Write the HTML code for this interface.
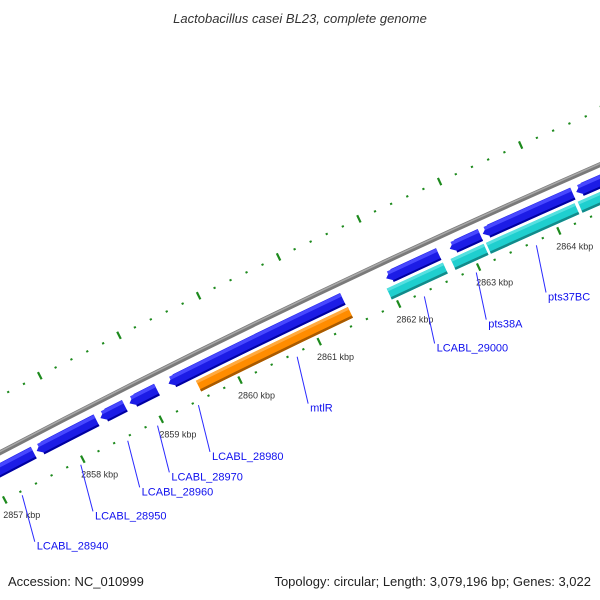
<!DOCTYPE html>
<html><head><meta charset="utf-8"><style>
html,body{margin:0;padding:0;background:#fff;}
svg{display:block;font-family:"Liberation Sans",sans-serif;}
</style></head><body>
<svg id="map" width="600" height="600" viewBox="0 0 600 600" xmlns="http://www.w3.org/2000/svg">
<defs>
<clipPath id="clip"><rect x="0" y="0" width="600" height="600"/></clipPath>
</defs>
<g id="plot" clip-path="url(#clip)"></g>
<text x="300" y="23" text-anchor="middle" font-size="13" font-style="italic" fill="#333">Lactobacillus casei BL23, complete genome</text>
<text x="8" y="586" font-size="13" fill="#222">Accession: NC_010999</text>
<text x="591" y="586" text-anchor="end" font-size="13" fill="#222">Topology: circular; Length: 3,079,196 bp; Genes: 3,022</text>
</svg>
<script>
// data
const fwdStarts = [2856900, 2857578, 2858390, 2858760, 2859255, 2861994, 2862788, 2863199, 2864359];
const fwdEnds   = [2857540, 2858340, 2858700, 2859108, 2861451, 2862650, 2863169, 2864317, 2865800];
const innerStarts = [2859547, 2861950, 2862749, 2863190, 2864330];
const innerEnds   = [2861463, 2862652, 2863160, 2864290, 2865800];
const innerKinds  = ["orange", "cyan", "cyan", "cyan", "cyan"];
const tickKbp = [2857, 2858, 2859, 2860, 2861, 2862, 2863, 2864, 2865];
const geneNames = ["LCABL_28940","LCABL_28950","LCABL_28960","LCABL_28970","LCABL_28980","mtlR","LCABL_29000","pts38A","pts37BC"];
const geneNameBp = [2857200, 2857950, 2858550, 2858930, 2859450, 2860700, 2862300, 2862950, 2863700];

const NS = "http://www.w3.org/2000/svg";
const plot = document.getElementById("plot");
const CX = 4315, CY = 8673, R0 = 9284;
const PHI0 = Math.atan2(380 - CY, 240 - CX);
const K = 88 / 9240 / 1000;
function ang(bp){ return PHI0 + (bp - 2860000) * K; }
function pt(bp, r){ const a = ang(bp); return [CX + r*Math.cos(a), CY + r*Math.sin(a)]; }
function f(v){ return v.toFixed(2); }
function mk(tag, attrs){ const e = document.createElementNS(NS, tag); for (const k in attrs) e.setAttribute(k, attrs[k]); plot.appendChild(e); return e; }
function band(s, e, r1, r2, arrowLeft){
  const head = 90;
  const rm = (r1 + r2) / 2;
  const bs = arrowLeft ? s + head : s;
  const a = pt(bs, r2), b = pt(e, r2), c = pt(e, r1), d = pt(bs, r1);
  let p = `M${f(a[0])},${f(a[1])} A${R0},${R0} 0 0 1 ${f(b[0])},${f(b[1])} L${f(c[0])},${f(c[1])} A${R0},${R0} 0 0 0 ${f(d[0])},${f(d[1])}`;
  if (arrowLeft){ const t = pt(s, rm); p += ` L${f(t[0])},${f(t[1])}`; }
  return p + " Z";
}

// backbone
{
  const a = pt(2855000, R0), b = pt(2867000, R0);
  let el = mk("path", {d:`M${f(a[0])},${f(a[1])} A${R0},${R0} 0 0 1 ${f(b[0])},${f(b[1])}`, fill:"none", stroke:"#7a7a7a", "stroke-width":"5"});
  
  
  const a2 = pt(2855000, R0+1), b2 = pt(2867000, R0+1);
  el = mk("path", {d:`M${f(a2[0])},${f(a2[1])} A${R0},${R0} 0 0 1 ${f(b2[0])},${f(b2[1])}`, fill:"none", stroke:"#a8a8a8", "stroke-width":"1.5"});
  
  
}

// ticks (outer and inner rings)
for (let bp = 2855000; bp <= 2867000; bp += 200){
  const major = bp % 1000 === 0;
  [[R0+50, "outer"], [R0-44, "inner"]].forEach(([r, nm]) => {
    const len = major ? 4 : 1;
    const p1 = pt(bp, r - len), p2 = pt(bp, r + len);
    const el = mk("line", {x1:f(p1[0]), y1:f(p1[1]), x2:f(p2[0]), y2:f(p2[1]), stroke:"#1d8a1d", "stroke-width": major ? 2.2 : 2.2});
    
    
  });
}
tickKbp.forEach(kb => {
  const p = pt(kb*1000, R0 - 61);
  const el = mk("text", {x:f(p[0]+9), y:f(p[1]+3), "text-anchor":"middle", "font-size":"9", fill:"#333"});
  el.textContent = kb + " kbp";
  
  
});

// forward ring genes (blue, arrows pointing left)
fwdStarts.forEach((s, i) => {
  const e = fwdEnds[i];
  let el = mk("path", {d: band(s, e, R0-22, R0-9, true), fill:"#1c1ce6"});
  
  
  el = mk("path", {d: band(s+40, e, R0-13, R0-9.5, false), fill:"#4848ff"});
  
  
  el = mk("path", {d: band(s+60, e, R0-22, R0-20, false), fill:"#0000a0"});
  
  
});

// inner ring genes
innerStarts.forEach((s, i) => {
  const e = innerEnds[i];
  const main = innerKinds[i] === "orange" ? "#ff8c00" : "#1fcfcf";
  const hi = innerKinds[i] === "orange" ? "#ffaa40" : "#55e0e0";
  const lo = innerKinds[i] === "orange" ? "#a85a00" : "#128a8a";
  let el = mk("path", {d: band(s, e, R0-37, R0-25, false), fill: main});
  
  
  el = mk("path", {d: band(s, e, R0-28, R0-25, false), fill: hi});
  
  
  el = mk("path", {d: band(s, e, R0-37, R0-34.5, false), fill: lo});
  
  
});

// gene labels with connector lines
geneNames.forEach((n, i) => {
  const p1 = pt(geneNameBp[i], R0 - 48);
  const p2 = pt(geneNameBp[i] - 120, R0 - 95);
  let el = mk("line", {x1:f(p1[0]), y1:f(p1[1]), x2:f(p2[0]), y2:f(p2[1]), stroke:"#2a2aff", "stroke-width":"1"});
  
  
  el = mk("text", {x:f(p2[0]+2), y:f(p2[1]+8), "font-size":"11", fill:"#1010ee"});
  el.textContent = n;
  
  
});
</script>
</body></html>
